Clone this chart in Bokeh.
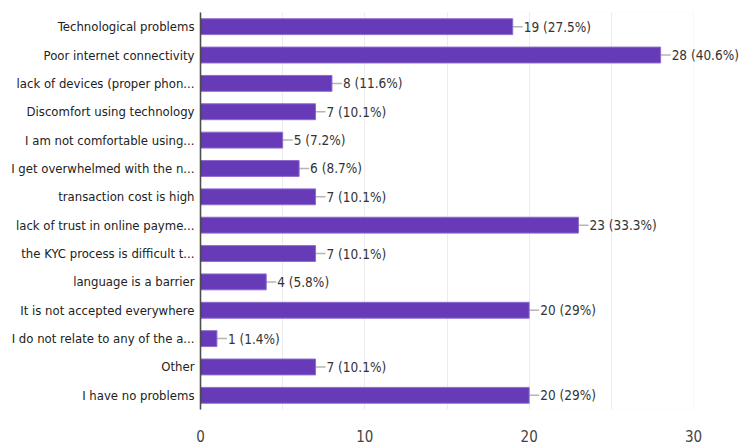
from bokeh.plotting import figure
from bokeh.models import FactorRange, Range1d, FixedTicker, ColumnDataSource, LabelSet, Grid, BoxAnnotation
from bokeh.core.properties import value
from bokeh.embed import file_html
from bokeh.resources import INLINE

categories = [
    "Technological problems",
    "Poor internet connectivity",
    "lack of devices (proper phon...",
    "Discomfort using technology",
    "I am not comfortable using...",
    "I get overwhelmed with the n...",
    "transaction cost is high",
    "lack of trust in online payme...",
    "the KYC process is difficult t...",
    "language is a barrier",
    "It is not accepted everywhere",
    "I do not relate to any of the a...",
    "Other",
    "I have no problems",
]
counts = [19, 28, 8, 7, 5, 6, 7, 23, 7, 4, 20, 1, 7, 20]
percents = ["27.5", "40.6", "11.6", "10.1", "7.2", "8.7", "10.1", "33.3", "10.1", "5.8", "29", "1.4", "10.1", "29"]
x_ticks = [0, 10, 20, 30]

FONT = "DejaVu Sans Condensed"
PURPLE = "#673ab7"

labels = [f"{c} ({p}%)" for c, p in zip(counts, percents)]
AXMAX = 30
LEFT = 200
px_per_unit = 493 / AXMAX
XMAX = (740 - LEFT) / px_per_unit
conn = 10 / px_per_unit

src = ColumnDataSource(dict(
    cat=categories, val=counts, lab=labels,
    cend=[c + conn for c in counts],
))

p = figure(width=740, height=444, output_backend="svg", toolbar_location=None,
           y_range=FactorRange(factors=categories[::-1], range_padding=0),
           x_range=Range1d(0, XMAX),
           min_border_left=LEFT, min_border_right=0, min_border_top=12, min_border_bottom=33)
p.xgrid.visible = False
p.ygrid.visible = False
p.outline_line_color = None

g = Grid(dimension=0, ticker=FixedTicker(ticks=[5, 10, 15, 20, 25]),
         grid_line_color="#ececec", grid_line_width=1)
p.add_layout(g)
p.add_layout(BoxAnnotation(left=0, right=AXMAX, fill_alpha=0, line_color="#e3e3e3", line_width=1))

p.segment(x0="val", x1="cend", y0="cat", y1="cat", source=src, line_color="#b5b5b5", line_width=1.5)
p.hbar(y="cat", right="val", left=0, height=0.56, source=src,
       fill_color=PURPLE, line_color="#8e6ccf", line_width=1)

ls = LabelSet(x="cend", y="cat", text="lab", source=src, x_offset=1,
              text_font=value(FONT), text_font_size=value("13.5px"), text_color="#333333",
              text_baseline="middle", text_align="left")
p.add_layout(ls)

p.xaxis.ticker = FixedTicker(ticks=x_ticks)
p.xaxis.axis_line_color = None
p.xaxis.major_tick_line_color = None
p.xaxis.minor_tick_line_color = None
p.xaxis.major_label_standoff = 14
p.xaxis.major_label_text_font = FONT
p.xaxis.major_label_text_font_size = "15px"
p.xaxis.major_label_text_color = "#444444"

p.yaxis.axis_line_color = "#333333"
p.yaxis.axis_line_width = 1.5
p.yaxis.major_tick_line_color = None
p.yaxis.minor_tick_line_color = None
p.yaxis.major_label_standoff = 0
p.yaxis.major_label_text_font = FONT
p.yaxis.major_label_text_font_size = "13px"
p.yaxis.major_label_text_color = "#222222"

p.background_fill_color = "white"
p.border_fill_color = "white"

open("out.html", "w").write(file_html(p, INLINE))
